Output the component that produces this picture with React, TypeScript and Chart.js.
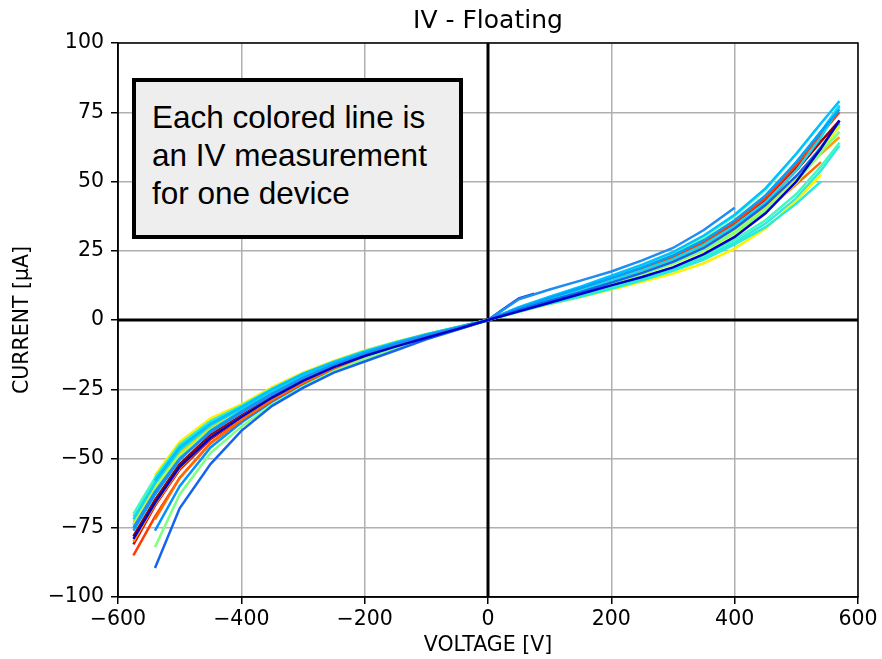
import React, { useEffect, useRef } from "react";
import { Chart, registerables } from "chart.js";

Chart.register(...registerables);

// Bias steps of the full sweep (V); null where a device was not measured.
const VOLTAGE_GRID = [
  -575, -540, -500, -450, -400, -350, -300, -250, -200, -150, -100, -50, 0,
  50, 100, 150, 200, 250, 300, 350, 400, 450, 500, 540, 570,
];
// Short sweep used by the device that stopped early.
const SHORT_SWEEP_V = [-150, -100, -50, 0, 25, 50, 75];

// Measured current per device (µA).
const DEV01_UA = [-79, -66, -53, -42.5, -35, -28, -22, -17, -13, -9.6, -6.4, -3.3, 0, 3.1, 6.2, 9.4, 12.5, 15.5, 19, 23.8, 30, 38.5, 50, 62, 72];
const DEV02_UA = [null, -89.5, -68, -52, -40, -31, -24.5, -19, -15, -11, -7, -3.5, 0, 3.6, 7, 10, 13.5, 17, 21, 26, 33, 41.5, 52, 62, null];
const DEV03_UA = [-75, -62, -50, -40.5, -33.5, -27, -21, -16.5, -12.5, -8.8, -5.6, -2.9, 0, 7.5, 11, 14.2, 17.5, 21.5, 26, 32.5, 40.5, null, null, null, null];
const DEV04_UA = [-76, -63, -50.5, -40, -33, -26.5, -20.8, -16, -12, -8.6, -5.6, -2.9, 0, 4.3, 8, 11.5, 15.2, 19, 23.3, 28.8, 36, 45, 57, 68, 76];
const DEV05_UA = [null, -58, -46, -37.5, -31.5, -25, -19.5, -15.2, -11.5, -8.2, -5.2, -2.6, 0, 4.6, 8.4, 12, 16, 20, 24.5, 30.5, 38, 47.5, 60, 71, 79];
const DEV06_UA = [-72, -59, -47, -38, -32, -25.5, -20, -15.5, -11.6, -8.3, -5.3, -2.7, 0, 3.9, 7.4, 10.7, 14.3, 18, 22, 27.2, 34, 42.5, 54, 66, 77];
const DEV07_UA = [null, -57, -45, -36.5, -31, -24.8, -19.4, -15, -11.2, -8, -5.1, -2.6, 0, 3, 5.9, 8.4, 11.3, 14.3, 17.8, 21.8, 27.3, 33.5, 42, 50, null];
const DEV08_UA = [-70, -57, -45.5, -37, -31.5, -25, -19.6, -15.2, -11.4, -8.1, -5.2, -2.6, 0, 3.3, 6.4, 9.2, 12.3, 15.5, 19, 23.3, 29, 36, 45.5, 55.5, 64];
const DEV09_UA = [null, -63, -50, -40, -33, -26.5, -20.8, -16, -12.2, -8.7, -5.6, -2.9, 0, 4.5, 8.2, 11.8, 15.6, 19.6, 24, 29.8, 37.5, 47, 60, 71, null];
const DEV10_UA = [null, -82, -63, -48, -38.5, -30.5, -24, -18.5, -14, -10.2, -6.6, -3.3, 0, 3.6, 6.9, 10, 13.4, 16.8, 20.5, 25.2, 31.5, 39.5, 50, 60.5, 68];
const DEV11_UA = [-74, -61, -49, -39.5, -33, -26.3, -20.6, -15.9, -12, -8.6, -5.5, -2.8, 0, 3.7, 7.1, 10.2, 13.6, 17, 20.8, 25.6, 32, 40, 50.5, 60, null];
const DEV12_UA = [null, -60, -47, -38, -32, -25.6, -20, -15.5, -11.6, -8.3, -5.3, -2.7, 0, 3.5, 6.8, 9.9, 13.2, 16.6, 20.3, 25, 31.2, 39, 49.5, 61, 70];
const DEV13_UA = [null, -56, -44, -35.5, -30.5, -24.2, -19, -14.8, -11, -7.9, -5, -2.5, 0, 3, 5.8, 8.3, 11, 13.8, 16.8, 20.5, 25.8, 33, 43, 52.5, null];
const DEV14_UA = [-73, -60, -48, -38.5, -32.5, -26, -20.3, -15.7, -11.8, -8.4, -5.4, -2.7, 0, 3.7, 7, 10.2, 13.6, 17.2, 21, 26, 32.5, 40.5, 51.5, 62, 70];
const DEV15_UA = [-80, -66.5, -53.5, -42.5, -35, -28, -22, -17, -12.8, -9.2, -5.9, -3, 0, 3.8, 7.3, 10.5, 14, 17.6, 21.5, 26.5, 33, 41, 52, 60, 66];
const DEV16_UA = [null, -72, -57, -44.5, -36, -28.8, -22.6, -17.3, -13, -9.4, -6, -3.1, 0, 3.6, 7, 10.1, 13.4, 16.8, 20.5, 25.3, 31.5, 39.5, 49, 57, null];
const DEV17_UA = [-85, -71, -57, -44.5, -36.2, -29, -22.8, -17.5, -13.2, -9.5, -6.1, -3.1, 0, 4.1, 7.7, 11.1, 14.8, 18.6, 22.8, 28.2, 35.2, 44, 56, 67, 75];
const DEV18_UA = [-81, -67, -54, -43, -35.3, -28.2, -22.2, -17, -12.8, -9.2, -5.9, -3, 0, 4, 7.5, 10.9, 14.5, 18.2, 22.3, 27.8, 34.8, 43.5, 55, 65, null];
const DEV19_UA = [-78, -65, -52, -41.5, -34.5, -27.7, -21.7, -16.7, -12.6, -9, -5.8, -3, 0, 3.9, 7.4, 10.8, 14.4, 18, 22, 27.2, 34, 42.5, 54, 64.5, 72];
const DEV20_UA = [null, -59, -47, -38.2, -32, -25.5, -19.9, -15.4, -11.6, -8.3, -5.3, -2.7, 0, 4.2, 7.8, 11.2, 14.9, 18.8, 23, 28.5, 35.5, 44.5, 57, 68, 77.5];
const DEV21_UA = [-71, -58, -46.5, -37.5, -31.8, -25.3, -19.8, -15.3, -11.5, -8.2, -5.3, -2.7, 0, 3.1, 6.1, 8.8, 11.8, 14.9, 18.3, 22.5, 28, 34.8, 44, 54, 63];
const DEV22_UA = [-9.8, -6.6, -3.4, 0, 4, 7.8, 9.5];
const DEV23_UA = [null, -76, -60, -46, -37, -29.5, -23.2, -17.8, -13.4, -9.6, -6.2, -3.2, 0, 3.5, 6.8, 9.8, 13.2, 16.7, 20.5, 25.4, 31.8, 40, 51, 61, null];
const DEV24_UA = [-74, -61, -48.5, -39, -32.5, -26, -20.3, -15.7, -11.8, -8.4, -5.4, -2.8, 0, 3.6, 6.9, 10.1, 13.5, 17, 20.8, 25.8, 32.3, 40.5, 51.5, 62.5, 71];

const DEVICES = [
  { volts: VOLTAGE_GRID, amps: DEV01_UA, color: "#0000c8" },
  { volts: VOLTAGE_GRID, amps: DEV02_UA, color: "#1464f0" },
  { volts: VOLTAGE_GRID, amps: DEV03_UA, color: "#1e8cf0" },
  { volts: VOLTAGE_GRID, amps: DEV04_UA, color: "#00a0ff" },
  { volts: VOLTAGE_GRID, amps: DEV05_UA, color: "#00c0ff" },
  { volts: VOLTAGE_GRID, amps: DEV06_UA, color: "#10d8f0" },
  { volts: VOLTAGE_GRID, amps: DEV07_UA, color: "#28ecd8" },
  { volts: VOLTAGE_GRID, amps: DEV08_UA, color: "#40f8c0" },
  { volts: VOLTAGE_GRID, amps: DEV09_UA, color: "#60ffa0" },
  { volts: VOLTAGE_GRID, amps: DEV10_UA, color: "#80ff80" },
  { volts: VOLTAGE_GRID, amps: DEV11_UA, color: "#b0ff50" },
  { volts: VOLTAGE_GRID, amps: DEV12_UA, color: "#d8ff28" },
  { volts: VOLTAGE_GRID, amps: DEV13_UA, color: "#fff000" },
  { volts: VOLTAGE_GRID, amps: DEV14_UA, color: "#ffc800" },
  { volts: VOLTAGE_GRID, amps: DEV15_UA, color: "#ff9c00" },
  { volts: VOLTAGE_GRID, amps: DEV16_UA, color: "#ff6a00" },
  { volts: VOLTAGE_GRID, amps: DEV17_UA, color: "#ff3c00" },
  { volts: VOLTAGE_GRID, amps: DEV18_UA, color: "#e00000" },
  { volts: VOLTAGE_GRID, amps: DEV19_UA, color: "#a00000" },
  { volts: VOLTAGE_GRID, amps: DEV20_UA, color: "#00e0ff" },
  { volts: VOLTAGE_GRID, amps: DEV21_UA, color: "#30e8e0" },
  { volts: SHORT_SWEEP_V, amps: DEV22_UA, color: "#1040e0" },
  { volts: VOLTAGE_GRID, amps: DEV23_UA, color: "#0090ff" },
  { volts: VOLTAGE_GRID, amps: DEV24_UA, color: "#00d0f8" },
];

const TITLE = "IV - Floating";
const X_LABEL = "VOLTAGE [V]";
const Y_LABEL = "CURRENT [µA]";
const NOTE_LINES = ["Each colored line is", "an IV measurement", "for one device"];

const FONT = "'DejaVu Sans', sans-serif";
const TICK_SIZE = 20.5;

const fmt = (v: number) => (v < 0 ? "\u2212" + Math.abs(v) : String(v));

// Frame, zero lines and text around the axes
const axesDecor = {
  id: "axesDecor",
  beforeDatasetsDraw(chart: any) {
    const { ctx, chartArea: a, scales } = chart;
    const x0 = scales.x.getPixelForValue(0);
    const y0 = scales.y.getPixelForValue(0);
    ctx.save();
    ctx.strokeStyle = "#000";
    ctx.lineWidth = 3;
    ctx.beginPath();
    ctx.moveTo(x0, a.top);
    ctx.lineTo(x0, a.bottom);
    ctx.moveTo(a.left, y0);
    ctx.lineTo(a.right, y0);
    ctx.stroke();
    ctx.restore();
  },
  afterDatasetsDraw(chart: any) {
    const { ctx, chartArea: a } = chart;
    ctx.save();
    ctx.strokeStyle = "#000";
    ctx.lineWidth = 1.5;
    ctx.strokeRect(a.left, a.top, a.right - a.left, a.bottom - a.top);
    ctx.restore();
  },
  afterDraw(chart: any) {
    const { ctx, chartArea: a } = chart;
    const cx = (a.left + a.right) / 2;
    ctx.save();
    ctx.fillStyle = "#000";
    ctx.textAlign = "center";
    ctx.textBaseline = "middle";
    ctx.font = `25px ${FONT}`;
    ctx.fillText(TITLE, cx, 21);
    ctx.font = `${TICK_SIZE}px ${FONT}`;
    ctx.fillText(X_LABEL, cx, 646);
    ctx.translate(23, (a.top + a.bottom) / 2);
    ctx.rotate(-Math.PI / 2);
    ctx.fillText(Y_LABEL, 0, 0);
    ctx.restore();
  },
};

export default function App() {
  const canvasRef = useRef<HTMLCanvasElement | null>(null);

  useEffect(() => {
    const canvas = canvasRef.current;
    if (!canvas) return;
    const datasets = DEVICES.map((d, k) => ({
      label: `device ${k + 1}`,
      data: d.volts
        .map((v, i) => ({ x: v, y: d.amps[i] }))
        .filter((p) => p.y !== null && p.y !== undefined),
      borderColor: d.color,
      backgroundColor: d.color,
      borderWidth: 2.5,
      pointRadius: 0,
      tension: 0,
      fill: false,
    }));

    const chart = new Chart(canvas, {
      type: "line",
      data: { datasets },
      options: {
        animation: false,
        responsive: false,
        devicePixelRatio: 1,
        layout: { padding: { left: 0, right: 24, top: 43, bottom: 0 } },
        plugins: {
          legend: { display: false },
          tooltip: { enabled: false },
          title: { display: false },
        },
        scales: {
          x: {
            type: "linear",
            min: -600,
            max: 600,
            afterFit: (s: any) => {
              s.height = 62;
            },
            ticks: {
              stepSize: 200,
              color: "#000",
              font: { family: FONT, size: TICK_SIZE },
              padding: 3,
              maxRotation: 0,
              callback: (v: any) => fmt(Number(v)),
            },
            grid: {
              color: "#b0b0b0",
              lineWidth: 1.5,
              tickColor: "#000",
              tickLength: 7,
              tickWidth: 1.5,
            },
            border: { display: true, color: "#000", width: 1.5 },
          },
          y: {
            type: "linear",
            min: -100,
            max: 100,
            afterFit: (s: any) => {
              s.width = 118;
            },
            ticks: {
              stepSize: 25,
              color: "#000",
              font: { family: FONT, size: TICK_SIZE },
              padding: 7,
              callback: (v: any) => fmt(Number(v)),
            },
            grid: {
              color: "#b0b0b0",
              lineWidth: 1.5,
              tickColor: "#000",
              tickLength: 7,
              tickWidth: 1.5,
            },
            border: { display: true, color: "#000", width: 1.5 },
          },
        },
      },
      plugins: [axesDecor],
    });
    return () => chart.destroy();
  }, []);

  return (
    <div
      style={{
        position: "fixed",
        left: 0,
        top: 0,
        width: 882,
        height: 659,
        background: "#fff",
      }}
    >
      <canvas ref={canvasRef} width={882} height={659} style={{ display: "block" }} />
      <div
        style={{
          position: "absolute",
          left: 132,
          top: 78,
          width: 331,
          height: 161,
          boxSizing: "border-box",
          border: "4px solid #000",
          background: "#eeeeee",
          padding: "17px 0 0 16px",
          fontFamily: "'Liberation Sans', Arial, sans-serif",
          fontSize: 31.5,
          lineHeight: "37.8px",
          color: "#000",
          whiteSpace: "nowrap",
        }}
      >
        {NOTE_LINES.map((t) => (
          <div key={t}>{t}</div>
        ))}
      </div>
    </div>
  );
}
